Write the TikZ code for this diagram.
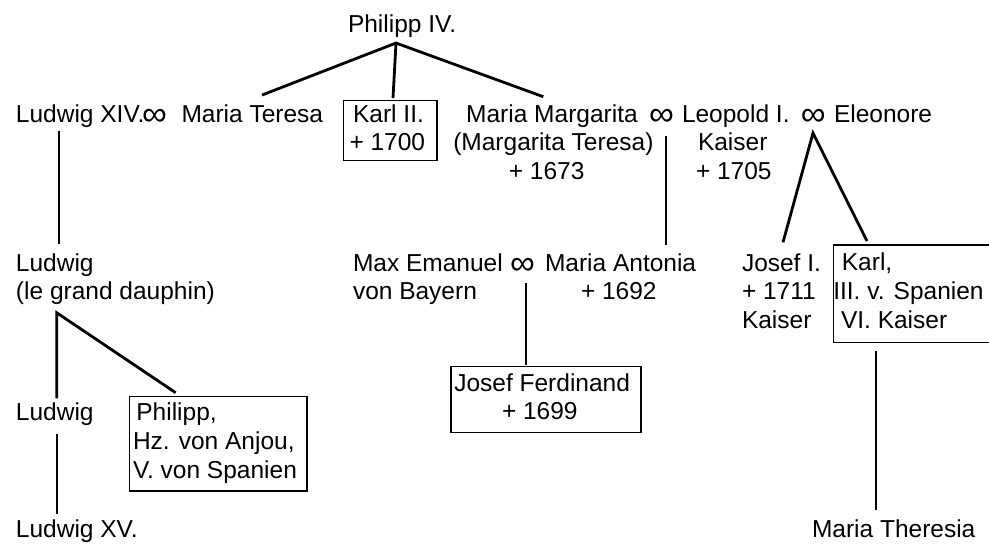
\documentclass[tikz,border=0pt]{standalone}
\usepackage{fontspec}
\setmainfont{Liberation Sans}
\usepackage{graphicx}
% rows of a family entry; the optional argument is the column spec (padding)
\newcommand\famrows[2][@{}l@{}]{\begin{tabular}[t]{#1}#2\end{tabular}}
% marriage sign, widened and set on the baseline
\newcommand\marr{\raisebox{-3.9pt}{\scalebox{1.42}[1.38]{∞}}}

\begin{document}
\begin{tikzpicture}[x=1pt,y=-1pt,
  every node/.style={inner sep=0pt, outer sep=0pt,
    font=\fontsize{24.5}{28.8}\selectfont},
  person/.style={anchor=base west},
  boxed/.style={person, draw, line width=1.3pt},
  union/.style={anchor=base},
  tie/.style={line width=2.8pt}]
\useasboundingbox (0,0) rectangle (989,544);

% generation of Philipp IV.
\node[person] (philipp) at (348,32) {\famrows{Philipp IV.}};

\node[person] (ludwig14) at (16,122) {\famrows{Ludwig XIV.}};
\node[union]  (mar1) at (154.5,122) {\famrows{\marr}};
\node[person] (teresa) at (181.5,122) {\famrows{Maria Teresa}};
\node[boxed, inner ysep=1pt] (karl2) at (343.3,122)
  {\famrows[@{\hspace{6.2pt}}l@{\hspace{11.9pt}}]{\hspace{3.6pt}Karl II.\\+ 1700}};
\node[person] (marg) at (453.3,122)
  {\famrows{\hspace{12.9pt}Maria Margarita\\(Margarita Teresa)\\\hspace{55.5pt}+ 1673}};
\node[union]  (mar2) at (661.5,122) {\famrows{\marr}};
\node[person] (leopold) at (682,122)
  {\famrows{Leopold I.\\\hspace{16pt}Kaiser\\\hspace{14pt}+ 1705}};
\node[union]  (mar3) at (813.3,122) {\famrows{\marr}};
\node[person] (eleonore) at (834,122) {\famrows{Eleonore}};

% next generation
\node[person] (dauphin) at (16,271) {\famrows{Ludwig\\(le grand dauphin)}};
\node[person] (maxem) at (353,271) {\famrows{Max Emanuel\\von Bayern}};
\node[union]  (mar4) at (522.4,271) {\famrows{\marr}};
\node[person] (antonia) at (545,271) {\famrows{Maria Antonia\\\hspace{36pt}+ 1692}};
\node[person] (josef1) at (742,271) {\famrows{Josef I.\\+ 1711\\Kaiser}};
\node[boxed, inner ysep=5.5pt] (karl6) at (833.3,270.7)
  {\famrows[@{}l@{\hspace{30pt}}]{\hspace{8.6pt}Karl,\\III. v. Spanien\\\hspace{7.7pt}VI. Kaiser}};

\node[boxed, inner ysep=4pt] (jferd) at (451,391)
  {\famrows[@{\hspace{3.3pt}}l@{\hspace{11pt}}]{Josef Ferdinand\\\hspace{47.7pt}+ 1699}};

\node[person] (ludwigB) at (16,420.7) {\famrows{Ludwig}};
\node[boxed, inner ysep=4pt] (anjou) at (129.3,420.7)
  {\famrows[@{\hspace{3.7pt}}l@{\hspace{10pt}}]{\hspace{3.4pt}Philipp,\\Hz. von Anjou,\\V. von Spanien}};

\node[person] (ludwig15) at (16,537.3) {\famrows{Ludwig XV.}};
\node[person] (theresia) at (812,537) {\famrows{Maria Theresia}};

% descent lines
\coordinate (pfork) at ([shift={(48pt,-2.4pt)}]philipp.south west);
\draw[tie] ([shift={(80.5pt,6.8pt)}]teresa.north west) -- (pfork)
  -- ([shift={(90pt,5.1pt)}]marg.north west);
\draw[tie] (pfork) -- ([shift={(49.7pt,2.8pt)}]karl2.north west);

\draw[tie] ([shift={(43pt,-0.4pt)}]ludwig14.south west)
  -- ([shift={(43pt,6.8pt)}]dauphin.north west);

\coordinate (dfork) at ([shift={(40.7pt,-4.3pt)}]dauphin.south west);
\draw[tie] ([shift={(40.7pt,2.2pt)}]ludwigB.north west) -- (dfork)
  -- ([shift={(46.4pt,3.8pt)}]anjou.north west);

\draw[tie] ([shift={(41pt,-4.7pt)}]ludwigB.south west)
  -- ([shift={(41pt,3.6pt)}]ludwig15.north west);

\draw[tie] ([shift={(4.5pt,-5.4pt)}]mar2.south)
  -- ([shift={(121pt,5.8pt)}]antonia.north west);

\draw[tie] ([shift={(3.6pt,-3.4pt)}]mar4.south)
  -- ([shift={(75pt,1.8pt)}]jferd.north west);

\coordinate (lfork) at ([shift={(-0.3pt,-2.4pt)}]mar3.south);
\draw[tie] ([shift={(41pt,8.5pt)}]josef1.north west) -- (lfork)
  -- ([shift={(33.7pt,4pt)}]karl6.north west);

\draw[tie] ([shift={(42.7pt,-8.2pt)}]karl6.south west)
  -- ([shift={(64pt,6.8pt)}]theresia.north west);
\end{tikzpicture}
\end{document}
